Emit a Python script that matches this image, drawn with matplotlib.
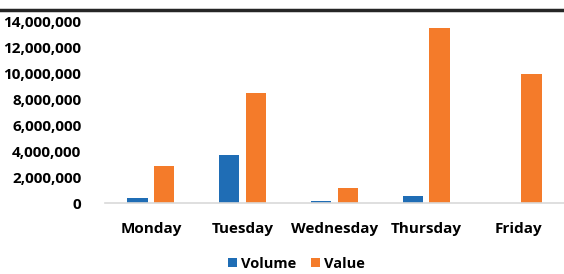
import numpy as np
import matplotlib.pyplot as plt
from matplotlib.lines import Line2D

days = ['Monday', 'Tuesday', 'Wednesday', 'Thursday', 'Friday']
volume = [350000, 3700000, 150000, 550000, 20000]
value = [2850000, 8450000, 1150000, 13500000, 9900000]
yticks = [0, 2000000, 4000000, 6000000, 8000000, 10000000, 12000000, 14000000]

blue = '#1F6DB5'
orange = '#F47B2A'

plt.rcParams['font.family'] = ['Open Sans', 'DejaVu Sans']

fig = plt.figure(figsize=(5.64, 2.74), dpi=100)
ax = fig.add_axes([0.186, 0.259, 0.814, 0.664])

x = np.arange(len(days))
w = 0.22
ax.bar(x - 0.145, volume, w, color=blue, label='Volume')
ax.bar(x + 0.145, value, w, color=orange, label='Value')

ax.set_xlim(-0.5, 4.5)
ax.set_ylim(0, 14000000)
ax.set_yticks(yticks)
ax.set_yticklabels(['{:,}'.format(t) for t in yticks], fontweight='bold', fontsize=11)
ax.set_xticks(x)
ax.set_xticklabels(days, fontweight='bold', fontsize=11)
ax.tick_params(length=0, pad=17)
ax.tick_params(axis='x', pad=14)

for s in ['top', 'right', 'left']:
    ax.spines[s].set_visible(False)
ax.spines['bottom'].set_color('#D9D9D9')
ax.spines['bottom'].set_linewidth(1.2)

# dark rule across the top of the image
fig.add_artist(Line2D([0, 1], [0.965, 0.965], color='#262626', linewidth=2.5, transform=fig.transFigure))

ax.legend(loc='center', bbox_to_anchor=(0.417, -0.335),
          ncol=2, frameon=False, handlelength=0.6, handleheight=0.6, handletextpad=0.3,
          columnspacing=1.0, prop={'weight': 'bold', 'size': 10.5})

fig.savefig('out.png', dpi=100)
